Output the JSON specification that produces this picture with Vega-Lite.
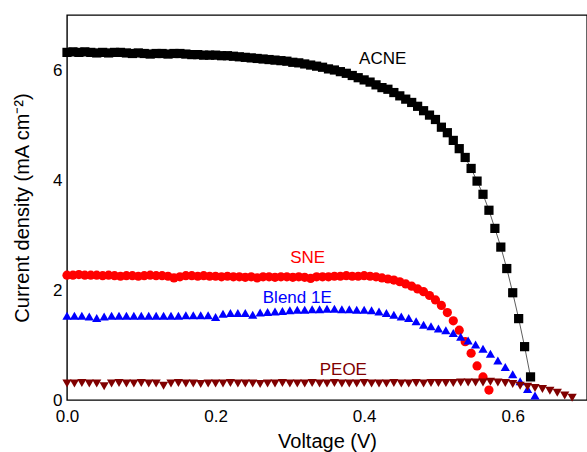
{
  "$schema": "https://vega.github.io/schema/vega-lite/v6.json",
  "width": 520,
  "height": 385,
  "autosize": {"type": "none"},
  "padding": {"left": 67, "top": 15, "right": 0, "bottom": 52},
  "background": "#ffffff",
  "config": {
    "view": {"stroke": "#000000", "strokeWidth": 1.4},
    "axis": {
      "domain": false, "ticks": false, "labelColor": "#000000", "titleColor": "#000000",
      "labelFont": "Liberation Sans", "titleFont": "Liberation Sans",
      "labelFontSize": 17, "titleFontSize": 20, "titleFontWeight": "normal",
      "grid": true, "gridColor": "#000000", "gridOpacity": 1, "gridWidth": 1.3,
      "labelFlush": false, "labelOverlap": false
    }
  },
  "resolve": {"axis": {"x": "independent", "y": "independent"}},
  "datasets": {
    "jv": [
      {"s":"ACNE","v":0.000,"j":6.32},{"s":"ACNE","v":0.008,"j":6.33},{"s":"ACNE","v":0.016,"j":6.32},{"s":"ACNE","v":0.024,"j":6.33},
      {"s":"ACNE","v":0.032,"j":6.32},{"s":"ACNE","v":0.040,"j":6.31},{"s":"ACNE","v":0.048,"j":6.32},{"s":"ACNE","v":0.056,"j":6.31},
      {"s":"ACNE","v":0.064,"j":6.32},{"s":"ACNE","v":0.072,"j":6.32},{"s":"ACNE","v":0.080,"j":6.31},{"s":"ACNE","v":0.088,"j":6.30},
      {"s":"ACNE","v":0.096,"j":6.31},{"s":"ACNE","v":0.104,"j":6.30},{"s":"ACNE","v":0.112,"j":6.29},{"s":"ACNE","v":0.120,"j":6.30},
      {"s":"ACNE","v":0.128,"j":6.30},{"s":"ACNE","v":0.136,"j":6.29},{"s":"ACNE","v":0.144,"j":6.30},{"s":"ACNE","v":0.152,"j":6.30},
      {"s":"ACNE","v":0.160,"j":6.29},{"s":"ACNE","v":0.168,"j":6.28},{"s":"ACNE","v":0.176,"j":6.28},{"s":"ACNE","v":0.184,"j":6.27},
      {"s":"ACNE","v":0.192,"j":6.27},{"s":"ACNE","v":0.200,"j":6.27},{"s":"ACNE","v":0.208,"j":6.26},{"s":"ACNE","v":0.216,"j":6.26},
      {"s":"ACNE","v":0.224,"j":6.25},{"s":"ACNE","v":0.232,"j":6.24},{"s":"ACNE","v":0.240,"j":6.23},{"s":"ACNE","v":0.248,"j":6.22},
      {"s":"ACNE","v":0.256,"j":6.21},{"s":"ACNE","v":0.264,"j":6.20},{"s":"ACNE","v":0.272,"j":6.19},{"s":"ACNE","v":0.280,"j":6.18},
      {"s":"ACNE","v":0.288,"j":6.17},{"s":"ACNE","v":0.296,"j":6.16},{"s":"ACNE","v":0.304,"j":6.14},{"s":"ACNE","v":0.312,"j":6.13},
      {"s":"ACNE","v":0.320,"j":6.11},{"s":"ACNE","v":0.328,"j":6.09},{"s":"ACNE","v":0.336,"j":6.07},{"s":"ACNE","v":0.344,"j":6.05},
      {"s":"ACNE","v":0.352,"j":6.02},{"s":"ACNE","v":0.360,"j":6.00},{"s":"ACNE","v":0.368,"j":5.97},{"s":"ACNE","v":0.376,"j":5.94},
      {"s":"ACNE","v":0.384,"j":5.90},{"s":"ACNE","v":0.392,"j":5.86},{"s":"ACNE","v":0.400,"j":5.82},{"s":"ACNE","v":0.408,"j":5.78},
      {"s":"ACNE","v":0.416,"j":5.73},{"s":"ACNE","v":0.424,"j":5.68},{"s":"ACNE","v":0.432,"j":5.65},{"s":"ACNE","v":0.440,"j":5.59},
      {"s":"ACNE","v":0.448,"j":5.53},{"s":"ACNE","v":0.456,"j":5.47},{"s":"ACNE","v":0.464,"j":5.41},{"s":"ACNE","v":0.472,"j":5.34},
      {"s":"ACNE","v":0.480,"j":5.26},{"s":"ACNE","v":0.488,"j":5.18},{"s":"ACNE","v":0.496,"j":5.10},{"s":"ACNE","v":0.504,"j":4.96},
      {"s":"ACNE","v":0.512,"j":4.86},{"s":"ACNE","v":0.520,"j":4.72},{"s":"ACNE","v":0.528,"j":4.57},{"s":"ACNE","v":0.536,"j":4.41},
      {"s":"ACNE","v":0.544,"j":4.21},{"s":"ACNE","v":0.552,"j":3.98},{"s":"ACNE","v":0.560,"j":3.74},{"s":"ACNE","v":0.568,"j":3.45},
      {"s":"ACNE","v":0.576,"j":3.12},{"s":"ACNE","v":0.584,"j":2.78},{"s":"ACNE","v":0.592,"j":2.39},{"s":"ACNE","v":0.600,"j":1.95},
      {"s":"ACNE","v":0.608,"j":1.48},{"s":"ACNE","v":0.616,"j":0.97},{"s":"ACNE","v":0.624,"j":0.42},

      {"s":"SNE","v":0.000,"j":2.27},{"s":"SNE","v":0.008,"j":2.27},{"s":"SNE","v":0.016,"j":2.28},{"s":"SNE","v":0.024,"j":2.27},
      {"s":"SNE","v":0.032,"j":2.27},{"s":"SNE","v":0.040,"j":2.27},{"s":"SNE","v":0.048,"j":2.26},{"s":"SNE","v":0.056,"j":2.27},
      {"s":"SNE","v":0.064,"j":2.26},{"s":"SNE","v":0.072,"j":2.25},{"s":"SNE","v":0.080,"j":2.26},{"s":"SNE","v":0.088,"j":2.26},
      {"s":"SNE","v":0.096,"j":2.25},{"s":"SNE","v":0.104,"j":2.26},{"s":"SNE","v":0.112,"j":2.27},{"s":"SNE","v":0.120,"j":2.26},
      {"s":"SNE","v":0.128,"j":2.26},{"s":"SNE","v":0.136,"j":2.25},{"s":"SNE","v":0.144,"j":2.22},{"s":"SNE","v":0.152,"j":2.24},
      {"s":"SNE","v":0.160,"j":2.26},{"s":"SNE","v":0.168,"j":2.26},{"s":"SNE","v":0.176,"j":2.25},{"s":"SNE","v":0.184,"j":2.26},
      {"s":"SNE","v":0.192,"j":2.25},{"s":"SNE","v":0.200,"j":2.25},{"s":"SNE","v":0.208,"j":2.24},{"s":"SNE","v":0.216,"j":2.25},
      {"s":"SNE","v":0.224,"j":2.24},{"s":"SNE","v":0.232,"j":2.24},{"s":"SNE","v":0.240,"j":2.23},{"s":"SNE","v":0.248,"j":2.24},
      {"s":"SNE","v":0.256,"j":2.22},{"s":"SNE","v":0.264,"j":2.24},{"s":"SNE","v":0.272,"j":2.24},{"s":"SNE","v":0.280,"j":2.23},
      {"s":"SNE","v":0.288,"j":2.24},{"s":"SNE","v":0.296,"j":2.24},{"s":"SNE","v":0.304,"j":2.23},{"s":"SNE","v":0.312,"j":2.24},
      {"s":"SNE","v":0.320,"j":2.23},{"s":"SNE","v":0.328,"j":2.21},{"s":"SNE","v":0.336,"j":2.24},{"s":"SNE","v":0.344,"j":2.24},
      {"s":"SNE","v":0.352,"j":2.24},{"s":"SNE","v":0.360,"j":2.25},{"s":"SNE","v":0.368,"j":2.25},{"s":"SNE","v":0.376,"j":2.26},
      {"s":"SNE","v":0.384,"j":2.25},{"s":"SNE","v":0.392,"j":2.25},{"s":"SNE","v":0.400,"j":2.26},{"s":"SNE","v":0.408,"j":2.25},
      {"s":"SNE","v":0.416,"j":2.24},{"s":"SNE","v":0.424,"j":2.22},{"s":"SNE","v":0.432,"j":2.20},{"s":"SNE","v":0.440,"j":2.18},
      {"s":"SNE","v":0.448,"j":2.15},{"s":"SNE","v":0.456,"j":2.11},{"s":"SNE","v":0.464,"j":2.07},{"s":"SNE","v":0.472,"j":2.02},
      {"s":"SNE","v":0.480,"j":1.97},{"s":"SNE","v":0.488,"j":1.90},{"s":"SNE","v":0.496,"j":1.82},{"s":"SNE","v":0.504,"j":1.72},
      {"s":"SNE","v":0.512,"j":1.59},{"s":"SNE","v":0.520,"j":1.44},{"s":"SNE","v":0.528,"j":1.27},{"s":"SNE","v":0.536,"j":1.06},
      {"s":"SNE","v":0.544,"j":0.85},{"s":"SNE","v":0.552,"j":0.62},{"s":"SNE","v":0.560,"j":0.42},{"s":"SNE","v":0.568,"j":0.18},

      {"s":"Blend 1E","v":0.00,"j":1.53},{"s":"Blend 1E","v":0.01,"j":1.53},{"s":"Blend 1E","v":0.02,"j":1.53},{"s":"Blend 1E","v":0.03,"j":1.52},
      {"s":"Blend 1E","v":0.04,"j":1.49},{"s":"Blend 1E","v":0.05,"j":1.52},{"s":"Blend 1E","v":0.06,"j":1.53},{"s":"Blend 1E","v":0.07,"j":1.53},
      {"s":"Blend 1E","v":0.08,"j":1.53},{"s":"Blend 1E","v":0.09,"j":1.53},{"s":"Blend 1E","v":0.10,"j":1.53},{"s":"Blend 1E","v":0.11,"j":1.53},
      {"s":"Blend 1E","v":0.12,"j":1.53},{"s":"Blend 1E","v":0.13,"j":1.53},{"s":"Blend 1E","v":0.14,"j":1.53},{"s":"Blend 1E","v":0.15,"j":1.53},
      {"s":"Blend 1E","v":0.16,"j":1.54},{"s":"Blend 1E","v":0.17,"j":1.54},{"s":"Blend 1E","v":0.18,"j":1.54},{"s":"Blend 1E","v":0.19,"j":1.54},
      {"s":"Blend 1E","v":0.20,"j":1.51},{"s":"Blend 1E","v":0.21,"j":1.57},{"s":"Blend 1E","v":0.22,"j":1.58},{"s":"Blend 1E","v":0.23,"j":1.58},
      {"s":"Blend 1E","v":0.24,"j":1.58},{"s":"Blend 1E","v":0.25,"j":1.55},{"s":"Blend 1E","v":0.26,"j":1.59},{"s":"Blend 1E","v":0.27,"j":1.60},
      {"s":"Blend 1E","v":0.28,"j":1.61},{"s":"Blend 1E","v":0.29,"j":1.62},{"s":"Blend 1E","v":0.30,"j":1.63},{"s":"Blend 1E","v":0.31,"j":1.64},
      {"s":"Blend 1E","v":0.32,"j":1.64},{"s":"Blend 1E","v":0.33,"j":1.65},{"s":"Blend 1E","v":0.34,"j":1.65},{"s":"Blend 1E","v":0.35,"j":1.66},
      {"s":"Blend 1E","v":0.36,"j":1.66},{"s":"Blend 1E","v":0.37,"j":1.65},{"s":"Blend 1E","v":0.38,"j":1.65},{"s":"Blend 1E","v":0.39,"j":1.64},
      {"s":"Blend 1E","v":0.40,"j":1.64},{"s":"Blend 1E","v":0.41,"j":1.63},{"s":"Blend 1E","v":0.42,"j":1.61},{"s":"Blend 1E","v":0.43,"j":1.58},
      {"s":"Blend 1E","v":0.44,"j":1.55},{"s":"Blend 1E","v":0.45,"j":1.52},{"s":"Blend 1E","v":0.46,"j":1.49},{"s":"Blend 1E","v":0.47,"j":1.43},
      {"s":"Blend 1E","v":0.48,"j":1.37},{"s":"Blend 1E","v":0.49,"j":1.34},{"s":"Blend 1E","v":0.50,"j":1.30},{"s":"Blend 1E","v":0.51,"j":1.27},
      {"s":"Blend 1E","v":0.52,"j":1.22},{"s":"Blend 1E","v":0.53,"j":1.15},{"s":"Blend 1E","v":0.54,"j":1.08},{"s":"Blend 1E","v":0.55,"j":1.01},
      {"s":"Blend 1E","v":0.56,"j":0.93},{"s":"Blend 1E","v":0.57,"j":0.84},{"s":"Blend 1E","v":0.58,"j":0.72},{"s":"Blend 1E","v":0.59,"j":0.60},
      {"s":"Blend 1E","v":0.60,"j":0.47},{"s":"Blend 1E","v":0.61,"j":0.34},{"s":"Blend 1E","v":0.62,"j":0.20},{"s":"Blend 1E","v":0.63,"j":0.08},

      {"s":"PEOE","v":0.00,"j":0.30},{"s":"PEOE","v":0.01,"j":0.30},{"s":"PEOE","v":0.02,"j":0.31},{"s":"PEOE","v":0.03,"j":0.30},
      {"s":"PEOE","v":0.04,"j":0.30},{"s":"PEOE","v":0.05,"j":0.25},{"s":"PEOE","v":0.06,"j":0.30},{"s":"PEOE","v":0.07,"j":0.31},
      {"s":"PEOE","v":0.08,"j":0.30},{"s":"PEOE","v":0.09,"j":0.30},{"s":"PEOE","v":0.10,"j":0.31},{"s":"PEOE","v":0.11,"j":0.30},
      {"s":"PEOE","v":0.12,"j":0.30},{"s":"PEOE","v":0.13,"j":0.26},{"s":"PEOE","v":0.14,"j":0.30},{"s":"PEOE","v":0.15,"j":0.31},
      {"s":"PEOE","v":0.16,"j":0.30},{"s":"PEOE","v":0.17,"j":0.30},{"s":"PEOE","v":0.18,"j":0.29},{"s":"PEOE","v":0.19,"j":0.30},
      {"s":"PEOE","v":0.20,"j":0.30},{"s":"PEOE","v":0.21,"j":0.30},{"s":"PEOE","v":0.22,"j":0.31},{"s":"PEOE","v":0.23,"j":0.30},
      {"s":"PEOE","v":0.24,"j":0.30},{"s":"PEOE","v":0.25,"j":0.30},{"s":"PEOE","v":0.26,"j":0.29},{"s":"PEOE","v":0.27,"j":0.30},
      {"s":"PEOE","v":0.28,"j":0.30},{"s":"PEOE","v":0.29,"j":0.31},{"s":"PEOE","v":0.30,"j":0.30},{"s":"PEOE","v":0.31,"j":0.30},
      {"s":"PEOE","v":0.32,"j":0.30},{"s":"PEOE","v":0.33,"j":0.31},{"s":"PEOE","v":0.34,"j":0.30},{"s":"PEOE","v":0.35,"j":0.30},
      {"s":"PEOE","v":0.36,"j":0.31},{"s":"PEOE","v":0.37,"j":0.30},{"s":"PEOE","v":0.38,"j":0.30},{"s":"PEOE","v":0.39,"j":0.30},
      {"s":"PEOE","v":0.40,"j":0.31},{"s":"PEOE","v":0.41,"j":0.30},{"s":"PEOE","v":0.42,"j":0.30},{"s":"PEOE","v":0.43,"j":0.30},
      {"s":"PEOE","v":0.44,"j":0.31},{"s":"PEOE","v":0.45,"j":0.30},{"s":"PEOE","v":0.46,"j":0.30},{"s":"PEOE","v":0.47,"j":0.31},
      {"s":"PEOE","v":0.48,"j":0.30},{"s":"PEOE","v":0.49,"j":0.31},{"s":"PEOE","v":0.50,"j":0.31},{"s":"PEOE","v":0.51,"j":0.31},
      {"s":"PEOE","v":0.52,"j":0.31},{"s":"PEOE","v":0.53,"j":0.32},{"s":"PEOE","v":0.54,"j":0.32},{"s":"PEOE","v":0.55,"j":0.32},
      {"s":"PEOE","v":0.56,"j":0.32},{"s":"PEOE","v":0.57,"j":0.33},{"s":"PEOE","v":0.58,"j":0.32},{"s":"PEOE","v":0.59,"j":0.31},
      {"s":"PEOE","v":0.60,"j":0.29},{"s":"PEOE","v":0.61,"j":0.26},{"s":"PEOE","v":0.62,"j":0.24},{"s":"PEOE","v":0.63,"j":0.22},
      {"s":"PEOE","v":0.64,"j":0.20},{"s":"PEOE","v":0.65,"j":0.17},{"s":"PEOE","v":0.66,"j":0.13},{"s":"PEOE","v":0.67,"j":0.08},
      {"s":"PEOE","v":0.68,"j":0.04}
    ],
    "labels": [
      {"s":"ACNE","v":0.425,"j":6.2},
      {"s":"SNE","v":0.324,"j":2.58},
      {"s":"Blend 1E","v":0.31,"j":1.85},
      {"s":"PEOE","v":0.372,"j":0.55}
    ]
  },
  "layer": [
    {
      "data": {"name": "jv"},
      "transform": [{"filter": "datum.s == 'ACNE'"}],
      "mark": {"type": "line", "color": "#333333", "strokeWidth": 0.8},
      "encoding": {
        "x": {"field": "v", "type": "quantitative", "scale": {"domain": [0, 0.7], "nice": false, "zero": false}, "axis": null},
        "y": {"field": "j", "type": "quantitative", "scale": {"domain": [0, 7], "nice": false, "zero": false}, "axis": null}
      }
    },
    {
      "data": {"name": "jv"},
      "mark": {"type": "point", "filled": true, "opacity": 1, "strokeWidth": 0},
      "encoding": {
        "x": {"field": "v", "type": "quantitative",
              "axis": {"orient": "bottom", "values": [0,0.2,0.4,0.6], "title": "Voltage (V)", "format": ".1f",
                       "labelPadding": 8, "titlePadding": 7, "gridDash": [6, 373, 6, 200]}},
        "y": {"field": "j", "type": "quantitative",
              "axis": {"orient": "left", "values": [0,2,4,6], "title": "Current density (mA cm\u207B\u00B2)",
                       "labelPadding": 5, "titlePadding": 20, "gridDash": [6, 508, 6, 200]}},
        "color": {"field": "s", "type": "nominal", "legend": null,
                  "scale": {"domain": ["ACNE","SNE","Blend 1E","PEOE"], "range": ["#000000","#ff0000","#0000ff","#800000"]}},
        "shape": {"field": "s", "type": "nominal", "legend": null,
                  "scale": {"domain": ["ACNE","SNE","Blend 1E","PEOE"], "range": ["square","circle","triangle-up","triangle-down"]}},
        "size": {"field": "s", "type": "nominal", "legend": null,
                 "scale": {"domain": ["ACNE","SNE","Blend 1E","PEOE"], "range": [85, 85, 120, 120]}}
      }
    },
    {
      "data": {"name": "labels"},
      "mark": {"type": "text", "font": "Liberation Sans", "fontSize": 17, "align": "center", "baseline": "middle"},
      "encoding": {
        "x": {"field": "v", "type": "quantitative",
              "axis": {"orient": "bottom", "values": [0.1,0.3,0.5], "labels": false, "title": null, "gridDash": [4, 377, 4, 200]}},
        "y": {"field": "j", "type": "quantitative",
              "axis": {"orient": "left", "values": [1,3,5], "labels": false, "title": null, "gridDash": [4, 512, 4, 200]}},
        "text": {"field": "s"},
        "color": {"field": "s", "type": "nominal", "legend": null}
      }
    }
  ]
}
